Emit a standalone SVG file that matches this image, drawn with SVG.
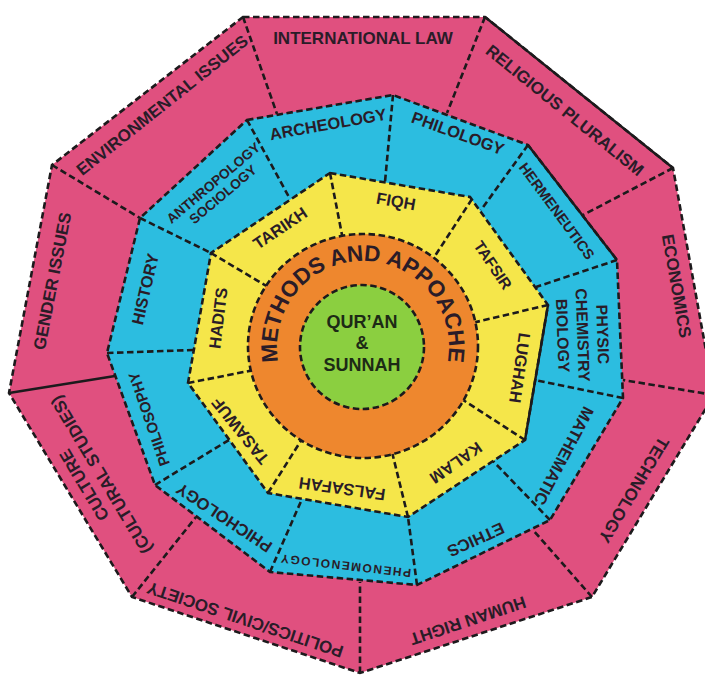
<svg xmlns="http://www.w3.org/2000/svg" width="705" height="675" viewBox="0 0 705 675">
<defs>
<style>
.d{fill:none;stroke:#1c1a1c;stroke-width:2.6;stroke-dasharray:6.5 3.5;stroke-linecap:butt}
.s{fill:none;stroke:#1c1a1c;stroke-width:2.4}
.t{font-family:"Liberation Sans",Arial,sans-serif;font-weight:bold;text-anchor:middle;fill:#2a1c28}
.p{font-size:17px}
.c{font-size:16.5px}
.y{font-size:16.5px}
</style>
</defs>
<rect width="705" height="675" fill="#ffffff"/>

<g id="outer-ring">
<polygon points="243,17 485,17 673,168 714,395 592,597 360,673 132,597 9,393 52,165" fill="#e0507f"/>
</g>
<g id="outer-dividers">
<line class="d" x1="243" y1="17" x2="277" y2="114"/>
<line class="d" x1="485" y1="17" x2="447" y2="113"/>
<line class="d" x1="673" y1="168" x2="583" y2="215"/>
<line class="d" x1="714" y1="395" x2="623" y2="380"/>
<line class="d" x1="592" y1="597" x2="533" y2="530"/>
<line class="d" x1="360" y1="673" x2="360" y2="582"/>
<line class="d" x1="132" y1="597" x2="196" y2="517"/>
<line class="s" x1="9" y1="393" x2="115" y2="376"/>
<line class="d" x1="52" y1="165" x2="140" y2="218"/>
</g>
<polygon class="d" points="243,17 485,17 673,168 714,395 592,597 360,673 132,597 9,393 52,165"/>
<line class="s" x1="485" y1="17" x2="673" y2="168"/>

<g id="middle-ring">
<polygon points="247,120 393,95 528,145 617,260 623,398 550,520 417,585 270,572 155,485 107,353 140,218" fill="#2cbde0"/>
</g>
<g id="middle-dividers">
<line class="d" x1="247" y1="120" x2="290" y2="199"/>
<line class="d" x1="393" y1="95" x2="385" y2="182"/>
<line class="d" x1="528" y1="145" x2="481" y2="210"/>
<line class="d" x1="617" y1="260" x2="536" y2="287"/>
<line class="d" x1="623" y1="398" x2="535" y2="380"/>
<line class="d" x1="550" y1="520" x2="493" y2="461"/>
<line class="d" x1="417" y1="585" x2="408" y2="517"/>
<line class="d" x1="270" y1="572" x2="302" y2="499"/>
<line class="d" x1="155" y1="485" x2="229" y2="440"/>
<line class="d" x1="107" y1="353" x2="193" y2="350"/>
<line class="d" x1="140" y1="218" x2="211" y2="253"/>
</g>
<polygon class="d" points="247,120 393,95 528,145 617,260 623,398 550,520 417,585 270,572 155,485 107,353 140,218"/>
<line class="s" x1="528" y1="145" x2="617" y2="260"/>

<g id="inner-ring">
<polygon points="330,173 470,197 548,305 525,440 408,517 268,493 188,383 211,253" fill="#f5e64a"/>
</g>
<g id="inner-dividers">
<line class="d" x1="330" y1="173" x2="343" y2="240"/>
<line class="d" x1="472" y1="199" x2="433" y2="259"/>
<line class="d" x1="548" y1="305" x2="472" y2="323"/>
<line class="d" x1="525" y1="440" x2="460" y2="398"/>
<line class="d" x1="408" y1="517" x2="392" y2="452"/>
<line class="d" x1="268" y1="493" x2="302" y2="439"/>
<line class="d" x1="188" y1="383" x2="254" y2="370"/>
<line class="d" x1="211" y1="253" x2="268" y2="287"/>
</g>
<polygon class="d" points="330,173 470,197 548,305 525,440 408,517 268,493 188,383 211,253"/>
<line class="s" x1="548" y1="305" x2="525" y2="440"/>

<g id="methods">
<ellipse cx="363" cy="346" rx="115" ry="112" fill="#ee872e"/>
<ellipse class="d" cx="363" cy="346" rx="115" ry="112"/>
<path id="arc" d="M 278.9 364.9 A 86 86 0 1 1 447.1 364.9" fill="none"/>
<text class="t" font-size="22.5"><textPath href="#arc" startOffset="50%">METHODS AND APPOACHE</textPath></text>
</g>

<g id="core">
<circle cx="362" cy="347" r="62" fill="#8bcf40"/>
<circle class="d" cx="362" cy="347" r="62"/>
<text class="t" font-size="18" style="fill:#1d2a16"><tspan x="362" y="327.5">QUR’AN</tspan><tspan x="362" y="349">&amp;</tspan><tspan x="362" y="370.5">SUNNAH</tspan></text>
</g>

<g id="international-law" transform="translate(363,38)"><text class="t p" dy="0.36em">INTERNATIONAL LAW</text></g>
<g id="religious-pluralism" transform="translate(565,110) rotate(39)"><text class="t p" dy="0.36em">RELIGIOUS PLURALISM</text></g>
<g id="economics" transform="translate(677,286) rotate(80)"><text class="t p" dy="0.36em">ECONOMICS</text></g>
<g id="technology" transform="translate(634,490) rotate(121)"><text class="t p" dy="0.36em">TECHNOLOGY</text></g>
<g id="human-right" transform="translate(468,621) rotate(161.6)"><text class="t p" dy="0.36em">HUMAN RIGHT</text></g>
<g id="politics" transform="translate(245,620) rotate(-161.5)"><text class="t p" dy="0.36em">POLITICS/CIVIL SOCIETY</text></g>
<g id="culture" transform="translate(92.5,480) rotate(-121)"><text class="t p"><tspan x="0" y="-10" dy="0.36em">CULTURE</tspan><tspan x="0" y="10" dy="0.36em">(CULTURAL STUDIES)</tspan></text></g>
<g id="gender-issues" transform="translate(52,281) rotate(-79)"><text class="t p" dy="0.36em">GENDER ISSUES</text></g>
<g id="environmental-issues" transform="translate(162,105) rotate(-38.5)"><text class="t p" dy="0.36em">ENVIRONMENTAL ISSUES</text></g>

<g id="anthropology-sociology" transform="translate(218,188.5) rotate(-40)"><text class="t" font-size="13.7"><tspan x="0" y="-7.5" dy="0.36em">ANTHROPOLOGY</tspan><tspan x="0" y="7.5" dy="0.36em">SOCIOLOGY</tspan></text></g>
<g id="archeology" transform="translate(328,124) rotate(-10)"><text class="t c" dy="0.36em">ARCHEOLOGY</text></g>
<g id="philology" transform="translate(458,133) rotate(20)"><text class="t c" dy="0.36em">PHILOLOGY</text></g>
<g id="hermeneutics" transform="translate(557,211) rotate(53.6)"><text class="t" font-size="14.5" dy="0.36em">HERMENEUTICS</text></g>
<g id="physic-chemistry-biology" transform="translate(583,335) rotate(88)"><text class="t" font-size="16"><tspan x="0" y="-20" dy="0.36em">PHYSIC</tspan><tspan x="0" y="0" dy="0.36em">CHEMISTRY</tspan><tspan x="0" y="20" dy="0.36em">BIOLOGY</tspan></text></g>
<g id="mathematic" transform="translate(564,456) rotate(118)"><text class="t c" dy="0.36em">MATHEMATIC</text></g>
<g id="ethics" transform="translate(476,540) rotate(155.6)"><text class="t c" dy="0.36em">ETHICS</text></g>
<g id="phenomenology" transform="translate(346,566) rotate(-173.5)"><text class="t" font-size="12" textLength="131" lengthAdjust="spacing" dy="0.36em">PHENOMENOLOGY</text></g>
<g id="phichology" transform="translate(224,518) rotate(-146.5)"><text class="t c" dy="0.36em">PHICHOLOGY</text></g>
<g id="philosophy" transform="translate(149,419) rotate(-109)"><text class="t" font-size="15" dy="0.36em">PHILOSOPHY</text></g>
<g id="history" transform="translate(145,289) rotate(-77)"><text class="t c" dy="0.36em">HISTORY</text></g>

<g id="tarikh" transform="translate(280,228) rotate(-34)"><text class="t y" dy="0.36em">TARIKH</text></g>
<g id="fiqh" transform="translate(396,201) rotate(10)"><text class="t y" dy="0.36em">FIQH</text></g>
<g id="tafsir" transform="translate(493,265) rotate(56)"><text class="t" font-size="15.5" dy="0.36em">TAFSIR</text></g>
<g id="lughah" transform="translate(520,368) rotate(98)"><text class="t y" dy="0.36em">LUGHAH</text></g>
<g id="kalam" transform="translate(456,463) rotate(145)"><text class="t y" dy="0.36em">KALAM</text></g>
<g id="falsafah" transform="translate(342,489) rotate(-172)"><text class="t y" dy="0.36em">FALSAFAH</text></g>
<g id="tasawuf" transform="translate(240,431) rotate(-129)"><text class="t y" dy="0.36em">TASAWUF</text></g>
<g id="hadits" transform="translate(218,318) rotate(-83)"><text class="t y" dy="0.36em">HADITS</text></g>
</svg>
